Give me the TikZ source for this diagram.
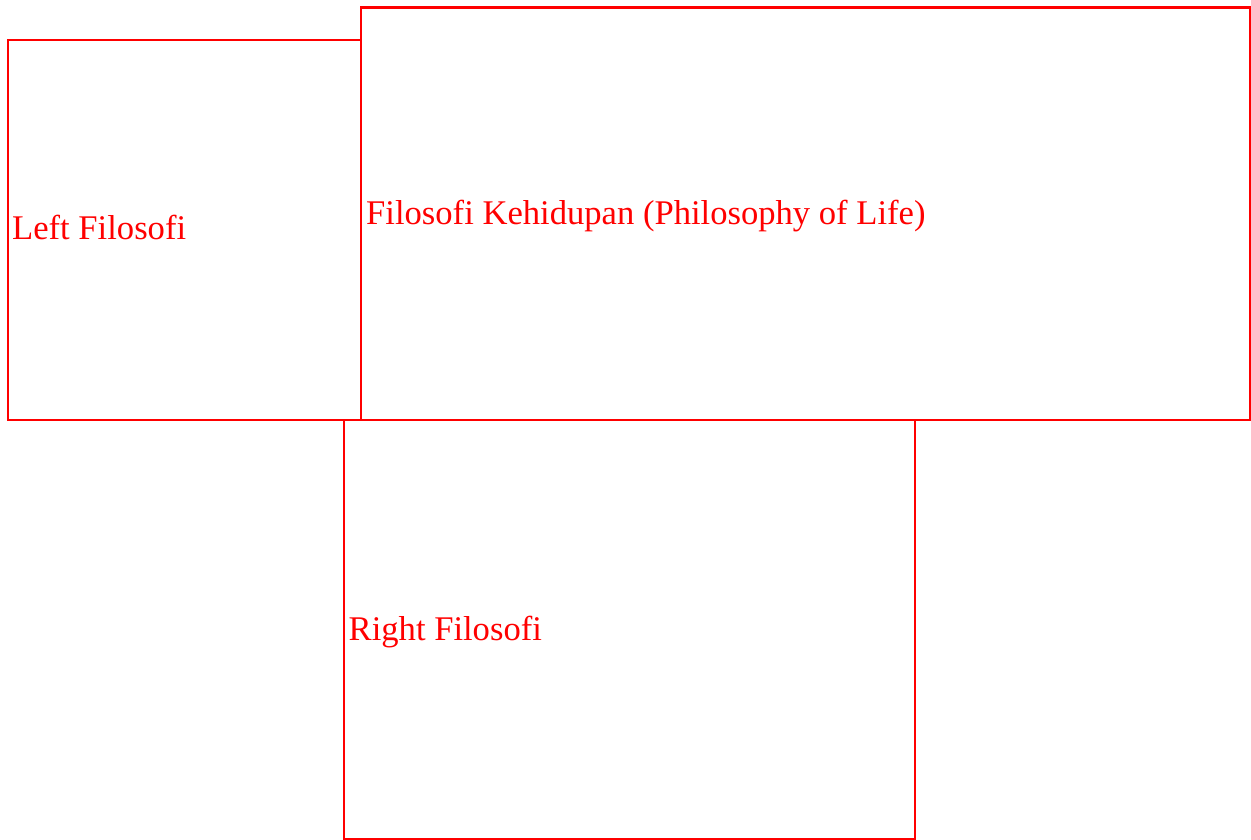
\documentclass[tikz,border=0pt]{standalone}
\usepackage{fontspec}
\setmainfont{Liberation Serif}
\tikzset{
  box/.style={draw=red, line width=2.6pt},
  lbl/.style={text=red, anchor=base west, inner sep=0pt, font=\fontsize{34.6}{40}\selectfont}
}
\begin{document}
\begin{tikzpicture}[x=1pt,y=-1pt]
\useasboundingbox (0,0) rectangle (1251,840);
\draw[box] (8,40) rectangle (361,420);
\draw[box] (361,7.5) rectangle (1250,420);
\draw[box] (344,420) rectangle (915,839);
\node[lbl] (lefttext) at (12,239) {Left Filosofi};
\node[lbl] (maintext) at (366,224) {Filosofi Kehidupan (Philosophy of Life)};
\node[lbl] (righttext) at (348.5,640) {Right Filosofi};
\end{tikzpicture}
\end{document}
